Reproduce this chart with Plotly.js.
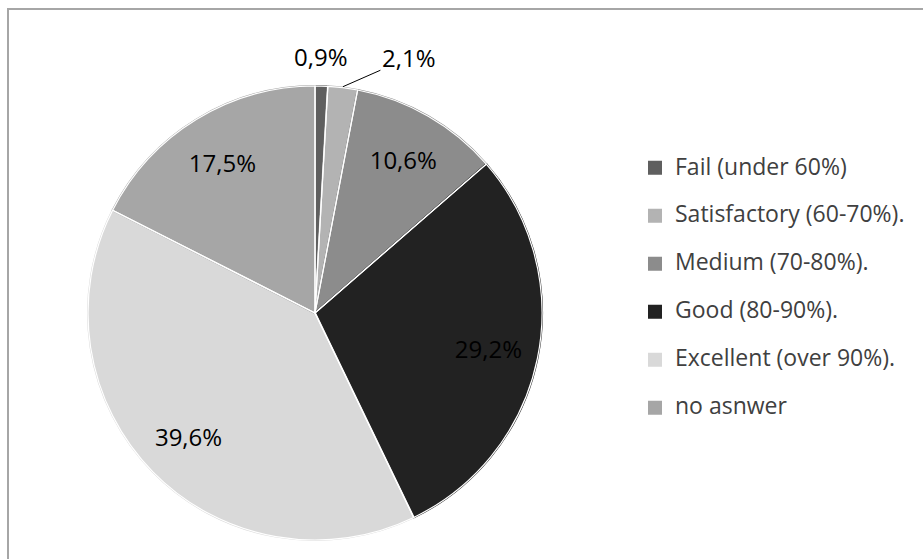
<!DOCTYPE html>
<html>
<head>
<meta charset="utf-8">
<script src="https://cdn.plot.ly/plotly-3.0.1.min.js"></script>
<style>html,body{margin:0;padding:0;background:#fff;}</style>
</head>
<body>
<div id="chart" style="width:923px;height:559px;"></div>
<script>
const categories = ['Fail (under 60%)', 'Satisfactory (60-70%).', 'Medium (70-80%).', 'Good (80-90%).', 'Excellent (over 90%).', 'no asnwer'];
const values = [0.9, 2.1, 10.6, 29.2, 39.6, 17.5];
const valueLabels = ['0,9%', '2,1%', '10,6%', '29,2%', '39,6%', '17,5%'];
const sliceColors = ['#5f5f5f', '#b3b3b3', '#8c8c8c', '#222222', '#d9d9d9', '#a6a6a6'];
const labelPositions = ['none', 'none', 'inside', 'inside', 'inside', 'inside'];

const W = 923, H = 559;
const FONT = 'Open Sans, sans-serif';
// pie box in pixels (centre 315,313)
const pieLeft = 88, pieRight = 542, pieTop = 86, pieBottom = 540;
const domain = {x: [pieLeft / W, pieRight / W], y: [1 - pieBottom / H, 1 - pieTop / H]};

const clear = values.map(() => 'rgba(0,0,0,0)');

// coloured slices + legend
const slices = {
  type: 'pie',
  labels: categories.map(c => '<span style="font-size:23px">' + c + '</span><br> '),
  values: values,
  textinfo: 'none',
  hoverinfo: 'label+percent',
  sort: false, direction: 'clockwise', rotation: 0,
  marker: {colors: sliceColors, line: {color: sliceColors, width: 2}},
  domain: domain
};
// white separators
const separators = {
  type: 'pie', labels: categories, values: values, textinfo: 'none', hoverinfo: 'skip',
  sort: false, direction: 'clockwise', rotation: 0, showlegend: false,
  marker: {colors: clear, line: {color: '#ffffff', width: 1.2}},
  domain: domain
};
// value labels placed in an invisible ring
const labelsRing = {
  type: 'pie', labels: categories, values: values, hole: 0.56,
  text: valueLabels, textinfo: 'text', hoverinfo: 'skip',
  textposition: labelPositions, insidetextorientation: 'horizontal',
  sort: false, direction: 'clockwise', rotation: 0, showlegend: false,
  textfont: {family: FONT, size: 24, color: '#000000'},
  insidetextfont: {family: FONT, size: 24, color: '#000000'},
  marker: {colors: clear, line: {width: 0}},
  domain: domain
};

// small-slice labels, anchored on each slice's outer edge
const total = values.reduce((a, b) => a + b, 0);
const cx = (pieLeft + pieRight) / 2, cy = (pieTop + pieBottom) / 2, R = (pieRight - pieLeft) / 2 + 1;
function edgePoint(i) {
  const before = values.slice(0, i).reduce((a, b) => a + b, 0);
  const ang = (before + values[i] / 2) / total * 2 * Math.PI;
  return {x: (cx + R * Math.sin(ang)) / W, y: 1 - (cy - R * Math.cos(ang)) / H};
}
const p0 = edgePoint(0), p1 = edgePoint(1);

const layout = {
  width: W, height: H,
  margin: {l: 0, r: 0, t: 0, b: 0},
  paper_bgcolor: '#ffffff',
  showlegend: true,
  legend: {
    x: 635 / W, xanchor: 'left',
    y: 1 - 150 / H, yanchor: 'top',
    font: {family: FONT, size: 17.3, color: '#404040'},
    valign: 'top',
    bgcolor: 'rgba(0,0,0,0)'
  },
  annotations: [{
    xref: 'paper', yref: 'paper', x: p0.x, y: p0.y,
    text: valueLabels[0], showarrow: false, xanchor: 'center', yanchor: 'bottom', yshift: 10,
    font: {family: FONT, size: 24, color: '#000000'}
  }, {
    xref: 'paper', yref: 'paper', x: p1.x, y: p1.y,
    text: valueLabels[1], showarrow: true, arrowhead: 0, arrowwidth: 1, arrowcolor: '#000000',
    ax: 66, ay: -29, standoff: 0,
    font: {family: FONT, size: 24, color: '#000000'}
  }],
  shapes: [{
    type: 'rect', xref: 'paper', yref: 'paper',
    x0: 8 / W, x1: 1.05, y0: -0.05, y1: 1 - 9 / H,
    line: {color: '#a6a6a6', width: 2}, fillcolor: 'rgba(0,0,0,0)'
  }]
};

Plotly.newPlot('chart', [slices, separators, labelsRing], layout, {displayModeBar: false, staticPlot: true});
</script>
</body>
</html>
